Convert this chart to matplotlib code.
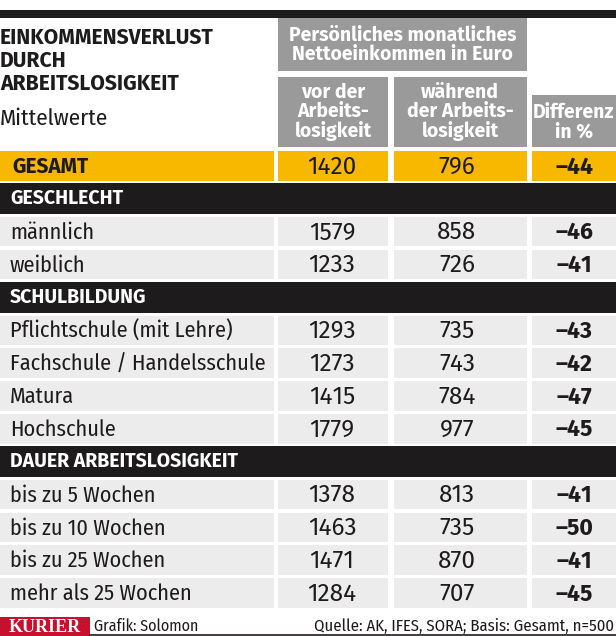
import matplotlib
matplotlib.use("Agg")
import matplotlib.pyplot as plt
from matplotlib.patches import Rectangle

# data
title_lines = ["EINKOMMENSVERLUST", "DURCH", "ARBEITSLOSIGKEIT"]
subtitle = "Mittelwerte"
group_header = "Persönliches monatliches\nNettoeinkommen in Euro"
col_headers = ["vor der\nArbeits-\nlosigkeit", "während\nder Arbeits-\nlosigkeit", "Differenz\nin %"]

total_label = "GESAMT"
total_before = 1420
total_during = 796
total_diff = -44

sections = ["GESCHLECHT", "SCHULBILDUNG", "DAUER ARBEITSLOSIGKEIT"]
labels = [["männlich", "weiblich"],
          ["Pflichtschule (mit Lehre)", "Fachschule / Handelsschule", "Matura", "Hochschule"],
          ["bis zu 5 Wochen", "bis zu 10 Wochen", "bis zu 25 Wochen", "mehr als 25 Wochen"]]
before = [[1579, 1233], [1293, 1273, 1415, 1779], [1378, 1463, 1471, 1284]]
during = [[858, 726], [735, 743, 784, 977], [813, 735, 870, 707]]
diff = [[-46, -41], [-43, -42, -47, -45], [-41, -50, -41, -45]]

credit = "Grafik: Solomon"
source = "Quelle: AK, IFES, SORA; Basis: Gesamt, n=500"

plt.rcParams['font.family'] = ['Fira Sans Condensed', 'Roboto Condensed', 'DejaVu Sans']
WIDE = ['Fira Sans', 'DejaVu Sans']

BLACK = "#1e1b1c"
GRAY = "#9a9a9a"
LIGHT = "#ececec"
YELLOW = "#f8b800"
RED = "#c8102e"

W, H = 616, 636
fig = plt.figure(figsize=(W / 100, H / 100), dpi=100)
ax = fig.add_axes([0, 0, 1, 1])
ax.set_xlim(0, W)
ax.set_ylim(H, 0)
ax.axis('off')


def box(x0, y0, x1, y1, color):
    ax.add_patch(Rectangle((x0, y0), x1 - x0, y1 - y0, facecolor=color, edgecolor='none'))


def fmt(v):
    return ("–" + str(-v)) if v < 0 else str(v)


# column spans
cols = [(0, 274), (278, 388), (394, 527), (532, 616)]
centers = [None, 332, 457, 574]

# top bar
box(0, 10, W, 18, BLACK)

# title
for i, t in enumerate(title_lines):
    ax.text(0, 38 + i * 23, t, fontsize=15.2, fontweight='bold', family=WIDE, color=BLACK,
            va='center', ha='left')
ax.text(0, 119, subtitle, fontsize=16.5, color=BLACK, va='center', ha='left')

# header boxes
box(278, 18, 527, 71, GRAY)
ax.text(402.5, 45, group_header, fontsize=14, fontweight='bold', family=WIDE, color='white',
        ha='center', va='center', linespacing=1.0)
box(278, 77, 388, 147, GRAY)
box(394, 77, 527, 147, GRAY)
box(532, 95, 616, 147, GRAY)
for cx, cy, txt in [(333, 112, col_headers[0]), (460, 112, col_headers[1]),
                    (574, 122, col_headers[2])]:
    ax.text(cx, cy, txt, fontsize=14, fontweight='bold', family=WIDE, color='white',
            ha='center', va='center', linespacing=0.98)

pitch = 32.85
ch = 29.5


def data_row(y, label, b, d, df, color, bold_label=False):
    for (x0, x1) in cols:
        box(x0, y - ch / 2, x1, y + ch / 2, color)
    if bold_label:
        ax.text(12, y + 1, label, fontsize=15, fontweight='bold', family=WIDE, color=BLACK,
                va='center', ha='left')
    else:
        ax.text(10, y + 1, label, fontsize=16, color=BLACK, va='center', ha='left')
    ax.text(centers[1], y + 1, str(b), fontsize=17.5, family=WIDE, color=BLACK,
            va='center', ha='center')
    ax.text(centers[2], y + 1, str(d), fontsize=17.5, family=WIDE, color=BLACK,
            va='center', ha='center')
    ax.text(centers[3], y + 1, fmt(df), fontsize=16.5, fontweight='bold', family=WIDE,
            color=BLACK, va='center', ha='center')


y = 166
data_row(y, total_label, total_before, total_during, total_diff, YELLOW, bold_label=True)
for s, labs, bs, ds, dfs in zip(sections, labels, before, during, diff):
    y += pitch
    box(0, y - 15.5, W, y + 15.5, BLACK)
    ax.text(10, y, s, fontsize=14, fontweight='bold', family=WIDE, color='white',
            va='center', ha='left')
    for lab, b, d, df in zip(labs, bs, ds, dfs):
        y += pitch
        data_row(y, lab, b, d, df, LIGHT)

# footer
box(0, 617, 90, 636, RED)
ax.text(45, 627, "KURIER", fontsize=13, fontweight='bold', family='Liberation Serif',
        color='white', ha='center', va='center')
ax.plot([90, W], [635, 635], color=BLACK, lw=1.2)
ax.text(94, 626, credit, fontsize=11.5, color=BLACK, ha='left', va='center')
ax.text(614, 626, source, fontsize=12, color=BLACK, ha='right', va='center')

fig.savefig("out.png", dpi=100)
